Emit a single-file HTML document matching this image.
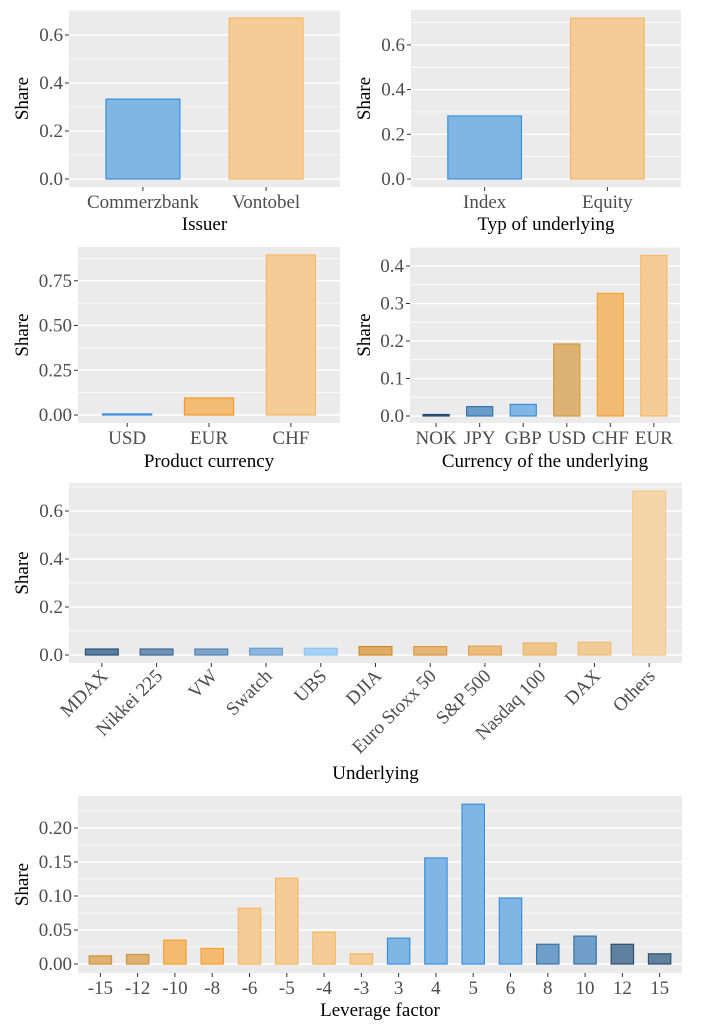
<!DOCTYPE html>
<html><head><meta charset="utf-8">
<style>
html,body{margin:0;padding:0;background:#fff;}
svg{display:block;}
svg text{font-family:"Liberation Serif","DejaVu Serif",serif;}
</style></head>
<body>
<svg id="chart" width="713" height="1024" viewBox="0 0 713 1024" xmlns="http://www.w3.org/2000/svg"></svg>
<script>
// ---- data arrays ----
const issuerCats = ["Commerzbank","Vontobel"];
const issuerVals = [0.333, 0.671];
const typCats = ["Index","Equity"];
const typVals = [0.282, 0.72];
const prodCurCats = ["USD","EUR","CHF"];
const prodCurVals = [0.006, 0.095, 0.894];
const undCurCats = ["NOK","JPY","GBP","USD","CHF","EUR"];
const undCurVals = [0.004, 0.025, 0.031, 0.192, 0.327, 0.428];
const underlyingCats = ["MDAX","Nikkei 225","VW","Swatch","UBS","DJIA","Euro Stoxx 50","S&P 500","Nasdaq 100","DAX","Others"];
const underlyingVals = [0.025, 0.025, 0.025, 0.028, 0.028, 0.035, 0.035, 0.037, 0.05, 0.053, 0.683];
const leverageCats = ["-15","-12","-10","-8","-6","-5","-4","-3","3","4","5","6","8","10","12","15"];
const leverageVals = [0.012, 0.014, 0.035, 0.023, 0.082, 0.126, 0.047, 0.015, 0.038, 0.156, 0.235, 0.097, 0.029, 0.041, 0.029, 0.015];
const ticks1 = [0, 0.2, 0.4, 0.6];
const ticks2 = [0, 0.2, 0.4, 0.6];
const ticks3 = [0, 0.25, 0.5, 0.75];
const ticks4 = [0, 0.1, 0.2, 0.3, 0.4];
const ticks5 = [0, 0.2, 0.4, 0.6];
const ticks6 = [0, 0.05, 0.1, 0.15, 0.2];

const BL = ["#7fb6e4","#3d90dc"], OR = ["#f4cd96","#f7b866"];
const FONT = '"Liberation Serif", "DejaVu Serif", serif';
const svg = document.getElementById('chart');
const NS = "http://www.w3.org/2000/svg";
function mk(tag, attrs, parent){ const e=document.createElementNS(NS,tag); for(const k in attrs) e.setAttribute(k,attrs[k]); (parent||svg).appendChild(e); return e; }

function panel(o){
  const g = mk('g',{});
  
  
  const {x0,x1,y0,y1,yZero,yPerUnit} = o;
  const ys = v => yZero - v*yPerUnit;
  const bg = mk('rect',{x:x0,y:y0,width:x1-x0,height:y1-y0,fill:'#ebebeb'},g);
  
  
  const step0 = o.ticks[1]-o.ticks[0];
  for(let i=-1;i<o.ticks.length;i++){
    const mv = (i<0? 0 : o.ticks[i]) + (i<0? -step0/2 : step0/2);
    const my = ys(mv);
    if(my>y0 && my<y1) mk('line',{x1:x0,x2:x1,y1:my,y2:my,stroke:'#fff','stroke-width':0.7},g);
  }
  o.ticks.forEach(t=>{
    const y=ys(t);
    mk('line',{x1:x0,x2:x1,y1:y,y2:y,stroke:'#fff','stroke-width':1.4},g);
    mk('line',{x1:x0-4,x2:x0,y1:y,y2:y,stroke:'#333','stroke-width':1},g);
    const tl = mk('text',{x:x0-6,y:y+6,'text-anchor':'end','font-size':19,fill:'#4d4d4d','font-family':FONT},g);
    tl.textContent = o.fmt(t);
    
    
  });
  const n=o.cats.length;
  const u=(x1-x0)/(n-1+1.2);
  const xc=i=>x0+(0.6+i)*u;
  o.cats.forEach((c,i)=>{
    const v=o.vals[i];
    const bw=0.6*u;
    const r = mk('rect',{x:xc(i)-bw/2,y:ys(v),width:bw,height:Math.max(v*yPerUnit,0.8),fill:o.colors[i][0],stroke:o.colors[i][1],'stroke-width':1.2},g);
    
    
    mk('line',{x1:xc(i),x2:xc(i),y1:y1,y2:y1+4,stroke:'#333','stroke-width':1},g);
    let t;
    if(o.rot){
      const ax=xc(i)+7, ay=y1+14;
      t = mk('text',{x:ax,y:ay,'text-anchor':'end','font-size':19,fill:'#4d4d4d','font-family':FONT,transform:`rotate(-45 ${ax} ${ay})`},g);
    } else {
      t = mk('text',{x:xc(i),y:y1+21,'text-anchor':'middle','font-size':19,fill:'#4d4d4d','font-family':FONT},g);
    }
    t.textContent=c;
    
    
  });
  const xt = mk('text',{x:(x0+x1)/2,y:o.xTitleY,'text-anchor':'middle','font-size':19,fill:'#000','font-family':FONT},g);
  xt.textContent=o.xTitle;
  
  
  const yc=(y0+y1)/2, yx=o.yTitleX;
  const yt = mk('text',{x:yx,y:yc,'text-anchor':'middle','font-size':19,fill:'#000','font-family':FONT,transform:`rotate(-90 ${yx} ${yc})`},g);
  yt.textContent='Share';
  
  
}
const f1=v=>v.toFixed(1), f2=v=>v.toFixed(2);

panel({name:'issuer-panel',x0:69,x1:340,y0:10,y1:187,yZero:179,yPerUnit:240,ticks:ticks1,fmt:f1,
  cats:issuerCats,vals:issuerVals,colors:[BL,OR],xTitle:'Issuer',xTitleY:230,yTitleX:28});
panel({name:'underlying-type-panel',x0:411,x1:681,y0:10,y1:187,yZero:179,yPerUnit:223.5,ticks:ticks2,fmt:f1,
  cats:typCats,vals:typVals,colors:[BL,OR],xTitle:'Typ of underlying',xTitleY:230,yTitleX:370});
panel({name:'product-currency-panel',x0:78,x1:340,y0:247,y1:423,yZero:415,yPerUnit:179,ticks:ticks3,fmt:f2,
  cats:prodCurCats,vals:prodCurVals,colors:[["#6aa8e0","#3d90dc"],["#f4bb74","#f39a2a"],OR],xTitle:'Product currency',xTitleY:467,yTitleX:28});
panel({name:'underlying-currency-panel',x0:410,x1:680,y0:247,y1:423,yZero:416,yPerUnit:375,ticks:ticks4,fmt:f1,
  cats:undCurCats,vals:undCurVals,colors:[["#2e5d8a","#244c73"],["#6a9cc8","#3775b0"],BL,["#deb273","#d59a3e"],["#f2bb72","#f4a43a"],OR],xTitle:'Currency of the underlying',xTitleY:467,yTitleX:370});
panel({name:'underlying-panel',x0:69,x1:682,y0:483,y1:663,yZero:655,yPerUnit:240,ticks:ticks5,fmt:f1,rot:true,
  cats:underlyingCats,vals:underlyingVals,
  colors:[["#5a7fa3","#2c4e72"],["#6f93b8","#3e6890"],["#7fa4c9","#5583b0"],["#8cb6de","#6aa0d2"],["#a6d2f6","#8ec6f5"],["#dfac63","#d08a2a"],["#e6b572","#da9a45"],["#ecbd7a","#e4a552"],["#efc589","#ebb46a"],["#f1cb94","#efbe7c"],["#f5d6a8","#f6c98c"]],
  xTitle:'Underlying',xTitleY:779,yTitleX:28});
const levColors = leverageCats.map(c=>{
  const v=parseInt(c);
  if(v<=-12) return ["#dfb070","#cf9540"];
  if(v<=-8) return ["#f4bb70","#f59f30"];
  if(v<0) return OR;
  if(v<=6) return BL;
  if(v<=10) return ["#6f9fc8","#3b74a8"];
  return ["#60809f","#2f4f6f"];
});
panel({name:'leverage-panel',x0:78,x1:682,y0:796,y1:973,yZero:964,yPerUnit:680,ticks:ticks6,fmt:f2,
  cats:leverageCats,vals:leverageVals,colors:levColors,xTitle:'Leverage factor',xTitleY:1016,yTitleX:28});
</script>
</body></html>
